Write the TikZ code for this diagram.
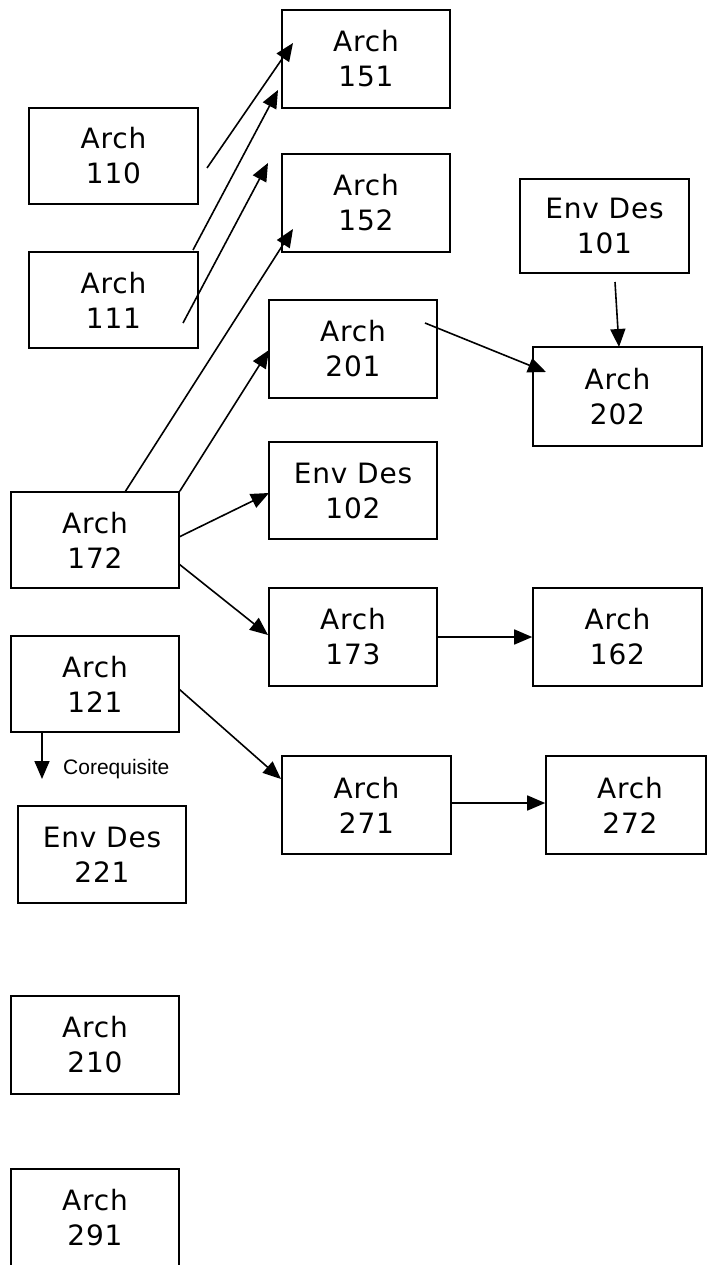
\documentclass[tikz,border=0pt]{standalone}
\usepackage{fontspec}
\setmainfont{DejaVu Sans}[LetterSpace=3]
\newfontfamily\arialfont{Liberation Sans}
\usetikzlibrary{arrows.meta}
\begin{document}
\begin{tikzpicture}[x=1pt,y=-1pt,
  box/.style={draw, line width=1.6pt, minimum width=168pt, minimum height=97pt,
    inner sep=0pt, align=center, font=\fontsize{28}{35}\selectfont},
  conn/.style={line width=1.6pt, -{Triangle[length=18pt,width=15pt]}}]
\useasboundingbox (0,0) rectangle (707,1265);
% boxes
\node[box, minimum height=98pt] (a151) at (366,59) {Arch\\151};
\node[box, minimum width=169pt, minimum height=96pt] (a110) at (113.5,156) {Arch\\110};
\node[box, minimum height=98pt] (a152) at (366,203) {Arch\\152};
\node[box, minimum width=169pt, minimum height=94pt] (ed101) at (604.5,226) {Env Des\\101};
\node[box, minimum width=169pt, minimum height=96pt] (a111) at (113.5,300) {Arch\\111};
\node[box, minimum height=98pt] (a201) at (353,349) {Arch\\201};
\node[box, minimum width=169pt, minimum height=99pt] (a202) at (617.5,396.5) {Arch\\202};
\node[box] (ed102) at (353,490.5) {Env Des\\102};
\node[box, minimum height=96pt] (a172) at (95,540) {Arch\\172};
\node[box, minimum height=98pt] (a173) at (353,637) {Arch\\173};
\node[box, minimum width=169pt, minimum height=98pt] (a162) at (617.5,637) {Arch\\162};
\node[box, minimum height=96pt] (a121) at (95,684) {Arch\\121};
\node[box, minimum width=169pt, minimum height=98pt] (a271) at (366.5,805) {Arch\\271};
\node[box, minimum width=160pt, minimum height=98pt, text width=160pt] (a272) at (626,805) {\hspace*{8pt}Arch\\\hspace*{8pt}272};
\node[box] (ed221) at (102,854.5) {Env Des\\221};
\node[box, minimum height=98pt] (a210) at (95,1045) {Arch\\210};
\node[box, minimum height=98pt] (a291) at (95,1218) {Arch\\291};
% connector end points
\coordinate (s1) at (207,168);  \coordinate (t1) at (293,43);
\coordinate (s2) at (193,250);  \coordinate (t2) at (278,90);
\coordinate (s3) at (183,323);  \coordinate (t3) at (268,163);
\coordinate (s4) at (125,492);  \coordinate (t4) at (293,229);
\coordinate (t5) at (269,350);
\coordinate (s6) at (179,537);  \coordinate (t6) at (269,493);
\coordinate (s7) at (179,564);  \coordinate (t7) at (268,635);
\coordinate (s9) at (179,689);  \coordinate (t9) at (281,779);
\coordinate (s11) at (425,323); \coordinate (t11) at (546,372);
\coordinate (s12) at (615,282); \coordinate (t12) at (619,347);
\coordinate (s13) at (42,732);  \coordinate (t13) at (42,779);
% connectors
\draw[conn] (s1) -- (t1);
\draw[conn] (s2) -- (t2);
\draw[conn] (s3) -- (t3);
\draw[conn] (s4) -- (t4);
\draw[conn] (a172.north east) -- (t5);
\draw[conn] (s6) -- (t6);
\draw[conn] (s7) -- (t7);
\draw[conn] (a173.east) -- (a162.west);
\draw[conn] (s9) -- (t9);
\draw[conn] (a271.east |- 0,803) -- (a272.west |- 0,803);
\draw[conn] (s11) -- (t11);
\draw[conn] (s12) -- (t12);
\draw[conn] (s13) -- (t13);
\node[font=\arialfont\fontsize{21}{24}\selectfont, anchor=west, inner sep=0pt] (coreq) at (63,769) {Corequisite};
\end{tikzpicture}
\end{document}
